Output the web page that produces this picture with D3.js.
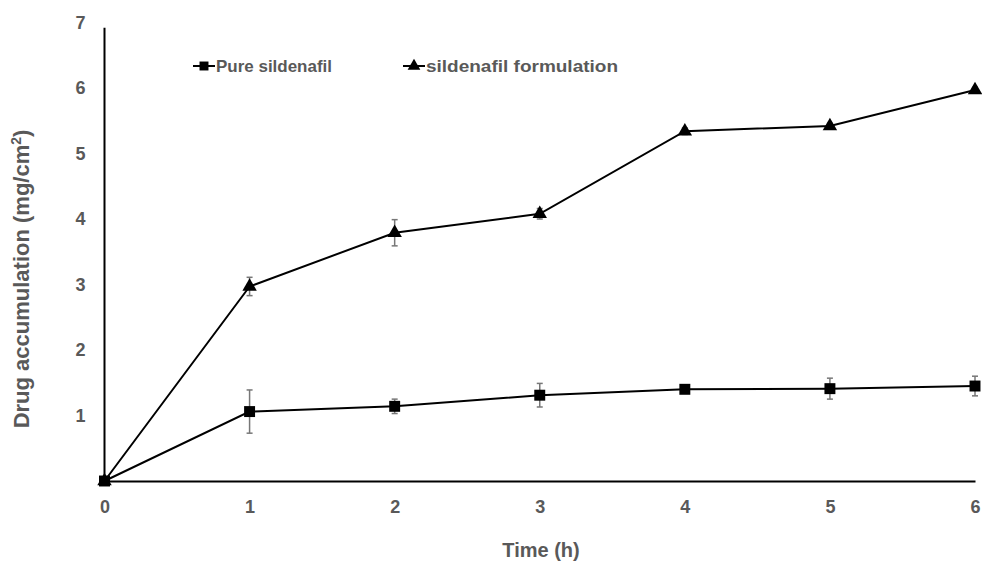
<!DOCTYPE html>
<html>
<head>
<meta charset="utf-8">
<script src="https://cdn.jsdelivr.net/npm/d3@7"></script>
<style>
  html, body { margin: 0; padding: 0; background: #fff; }
  svg { display: block; font-family: Arial, "Liberation Sans", sans-serif; }
</style>
</head>
<body>
<svg id="chart" width="982" height="563"></svg>
<script>
const timePoints = [0, 1, 2, 3, 4, 5, 6];
const pureValues = [0, 1.06, 1.14, 1.31, 1.40, 1.41, 1.45];
const pureErrors = [0, 0.33, 0.11, 0.18, 0.03, 0.16, 0.15];
const formValues = [0, 2.97, 3.79, 4.08, 5.34, 5.42, 5.97];
const formErrors = [0, 0.14, 0.20, 0.08, 0.05, 0.04, 0.04];
const xTicks = [0, 1, 2, 3, 4, 5, 6];
const yTicks = [1, 2, 3, 4, 5, 6, 7];
const seriesNames = ["Pure sildenafil", "sildenafil formulation"];

const svg = d3.select("#chart");
const x = d3.scaleLinear().domain([0, 6]).range([104.5, 975]);
const y = d3.scaleLinear().domain([0, 7]).range([481, 22.5]);

const grey = "#595959";

// axes
const yAxis = d3.axisLeft(y).tickValues(yTicks).tickFormat(d3.format("d")).tickSize(0).tickPadding(19);
const gy = svg.append("g").attr("transform", `translate(${x(0)},0)`).call(yAxis);
gy.select(".domain").attr("stroke", "#000").attr("stroke-width", 2)
  .attr("d", `M0,${y(0)}V${y(6.92)}`);
gy.selectAll("text").attr("fill", grey).style("font-size", "18px").style("font-weight", "bold");

const xAxis = d3.axisBottom(x).tickValues(xTicks).tickFormat(d3.format("d")).tickSize(0).tickPadding(19);
const gx = svg.append("g").attr("transform", `translate(0,${y(0)})`).call(xAxis);
gx.select(".domain").attr("stroke", "#000").attr("stroke-width", 2);
gx.selectAll("text").attr("fill", grey).style("font-size", "18px").style("font-weight", "bold");

// axis titles
svg.append("text").attr("x", 541).attr("y", 557).attr("text-anchor", "middle")
  .attr("fill", grey).style("font-size", "20px").style("font-weight", "bold").text("Time (h)");
const yl = svg.append("text").attr("transform", "translate(29,279) rotate(-90)")
  .attr("text-anchor", "middle").attr("fill", grey)
  .style("font-size", "22px").style("font-weight", "bold");
yl.append("tspan").text("Drug accumulation (mg/cm");
yl.append("tspan").attr("dy", -8).style("font-size", "14px").text("2");
yl.append("tspan").attr("dy", 8).text(")");

const line = d3.line().x(d => x(d[0])).y(d => y(d[1]));
const series = [
  { vals: pureValues, errs: pureErrors, sym: d3.symbolSquare, size: 120 },
  { vals: formValues, errs: formErrors, sym: d3.symbolTriangle, size: 90 }
];

series.forEach(s => {
  const pts = timePoints.map((t, i) => [t, s.vals[i], s.errs[i]]);
  svg.append("path").datum(pts).attr("d", line)
    .attr("fill", "none").attr("stroke", "#000").attr("stroke-width", 2);
  const eb = svg.append("g").attr("stroke", "#777").attr("stroke-width", 1.5);
  pts.filter(p => p[2] > 0).forEach(p => {
    const cx = x(p[0]), top = y(p[1] + p[2]), bot = y(p[1] - p[2]);
    eb.append("line").attr("x1", cx).attr("x2", cx).attr("y1", top).attr("y2", bot);
    eb.append("line").attr("x1", cx - 3).attr("x2", cx + 3).attr("y1", top).attr("y2", top);
    eb.append("line").attr("x1", cx - 3).attr("x2", cx + 3).attr("y1", bot).attr("y2", bot);
  });
  svg.append("g").selectAll("path").data(pts).join("path")
    .attr("transform", p => `translate(${x(p[0])},${y(p[1])})`)
    .attr("d", d3.symbol().type(s.sym).size(s.size))
    .attr("fill", "#000");
});

// legend
const legendItems = [
  { name: seriesNames[0], x0: 193, sym: d3.symbolSquare, size: 80, len: 116 },
  { name: seriesNames[1], x0: 403, sym: d3.symbolTriangle, size: 70, len: 192 }
];
legendItems.forEach(l => {
  const g = svg.append("g").attr("transform", `translate(${l.x0},66)`);
  g.append("line").attr("x1", 0).attr("x2", 22).attr("stroke", "#000").attr("stroke-width", 2);
  g.append("path").attr("transform", "translate(11,0)").attr("d", d3.symbol().type(l.sym).size(l.size)).attr("fill", "#000");
  g.append("text").attr("x", 23).attr("y", 6).attr("fill", grey)
    .attr("textLength", l.len).attr("lengthAdjust", "spacingAndGlyphs")
    .style("font-size", "17px").style("font-weight", "bold").text(l.name);
});
</script>
</body>
</html>
